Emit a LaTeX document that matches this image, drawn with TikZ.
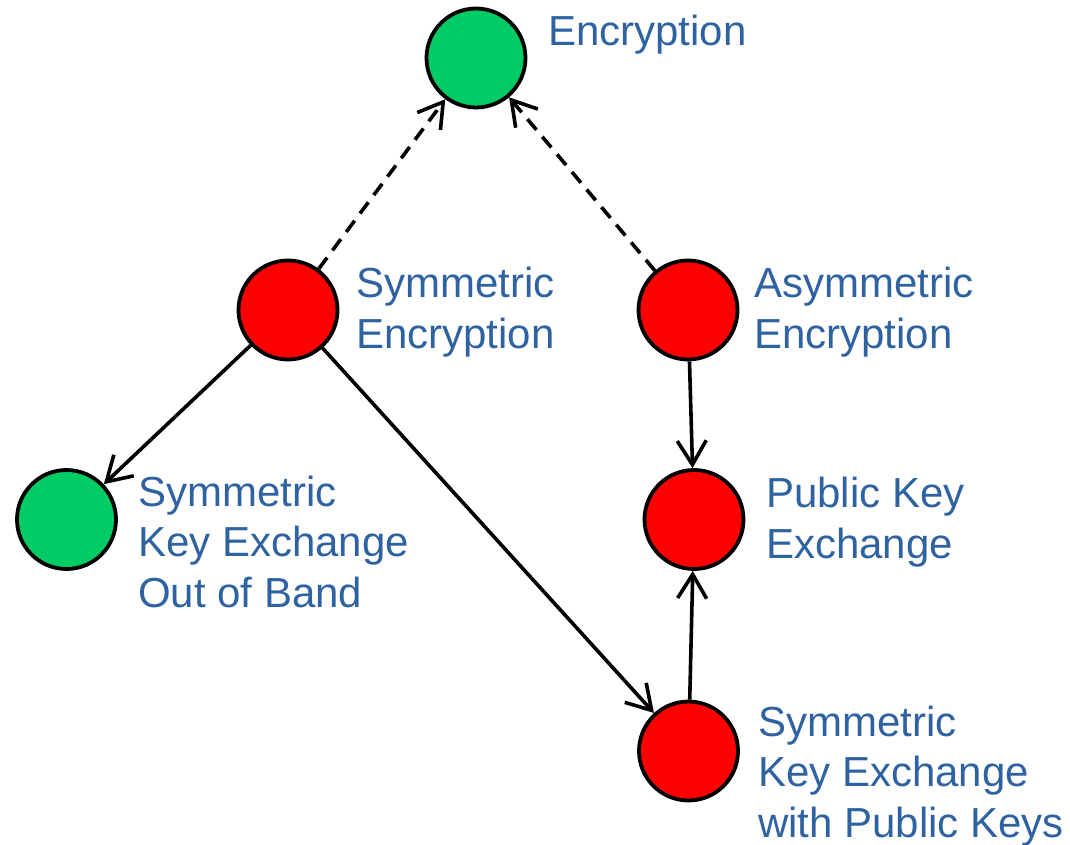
\documentclass[tikz,border=0pt]{standalone}
\usepackage{fontspec}
\setmainfont{Liberation Sans}
\usetikzlibrary{arrows.meta}
\definecolor{labelblue}{RGB}{46,98,160}
\definecolor{keygreen}{RGB}{0,204,102}
\definecolor{keyred}{RGB}{255,0,0}
\begin{document}
\begin{tikzpicture}
[x=1pt,y=-1pt,
  nodedecorate/.style={shape=circle,draw,line width=3.8pt,minimum size=99pt,inner sep=0pt},%
  textdecorate/.style={anchor=base west,inner sep=0pt,align=left,text=labelblue,
    font=\fontsize{42}{50.5}\selectfont},
  linedecorate/.style={-{Straight Barb[length=24pt,width=29pt]},line width=3.6pt},
  dashdecorate/.style={linedecorate,dash pattern=on 14pt off 9pt}]
\useasboundingbox (0,0) rectangle (1070,845);
%% nodes or vertices
\foreach \nodename/\x/\y/\fillcolour in {
  enc/476/58/keygreen,
  sym/288/310/keyred, asym/688/310/keyred,
  skeo/66.5/519.5/keygreen, pke/694/519.5/keyred,
  skep/688.5/751/keyred}
{
  \node (\nodename) at (\x,\y) [nodedecorate,fill=\fillcolour] {};
}
%% labels (placed at the baseline of the last line)
\foreach \nodename/\x/\y/\labeltext in {
  enc/548/46/Encryption,
  sym/356/348/{Symmetric\\Encryption},
  asym/754/348/{Asymmetric\\Encryption},
  skeo/138/607/{Symmetric\\Key Exchange\\Out of Band},
  pke/766/558/{Public Key\\Exchange},
  skep/758/837/{Symmetric\\Key Exchange\\with Public Keys}}
{
  \node (\nodename-text) at (\x,\y) [textdecorate] {\labeltext};
}
%% edges or lines
\path
\foreach \startnode/\endnode/\linestyle in {sym/enc/dashdecorate,
  asym/enc/dashdecorate, sym/skeo/linedecorate, sym/skep/linedecorate,
  asym/pke/linedecorate, skep/pke/linedecorate}
{
  (\startnode) edge[\linestyle] (\endnode)
};
\end{tikzpicture}
\end{document}
